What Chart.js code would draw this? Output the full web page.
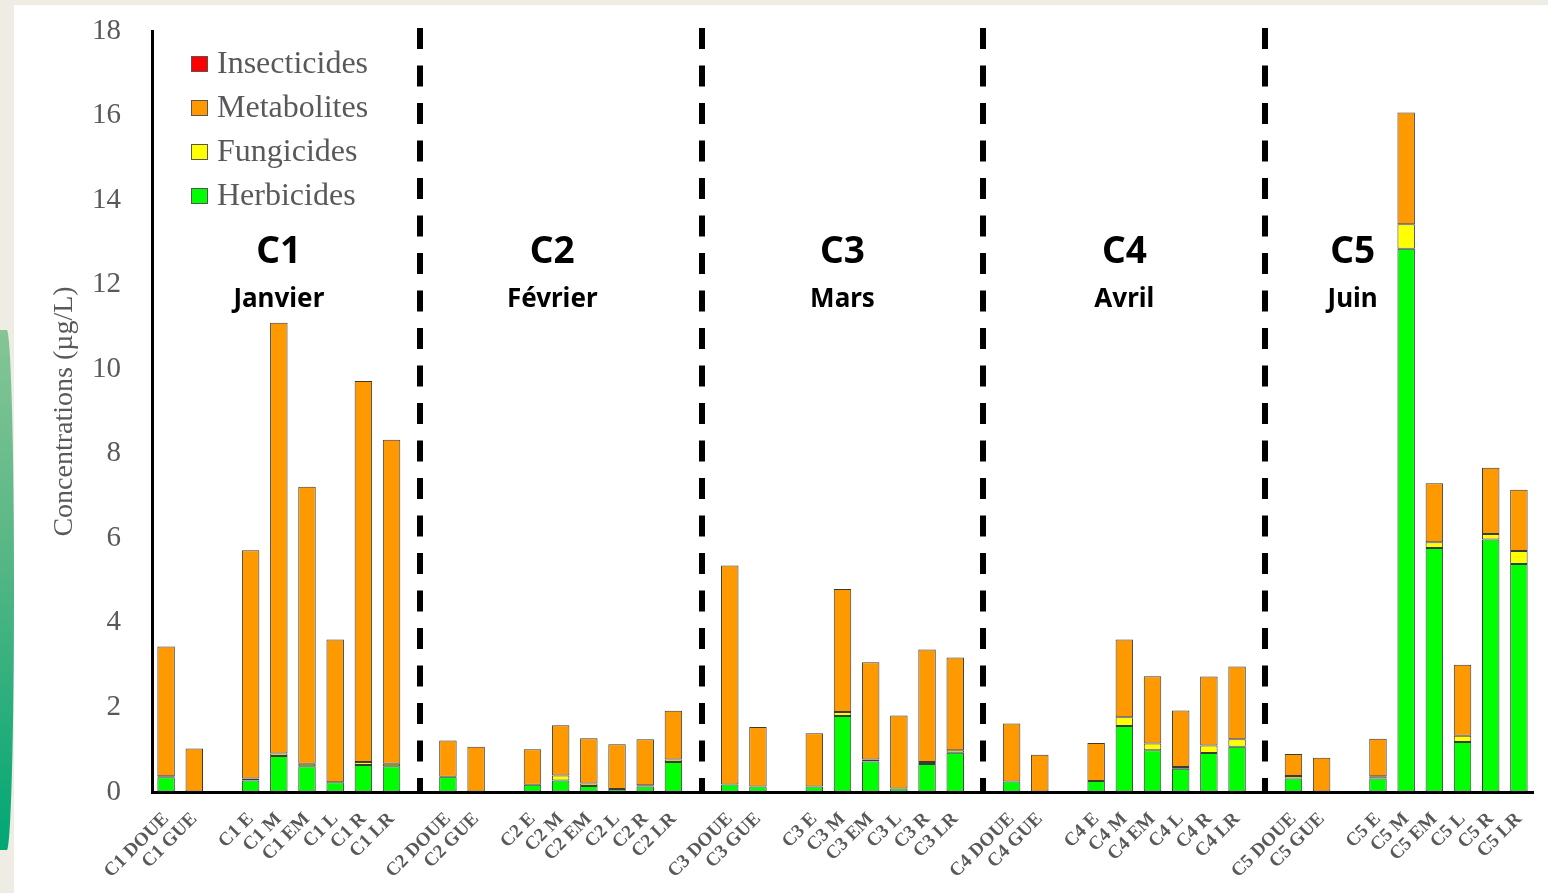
<!DOCTYPE html>
<html>
<head>
<meta charset="utf-8">
<script src="https://cdn.jsdelivr.net/npm/chart.js@4.4.1/dist/chart.umd.min.js"></script>
<style>
  html, body { margin: 0; padding: 0; width: 1548px; height: 893px; overflow: hidden; background: #efece4; }
  #panel { position: absolute; left: 14px; top: 5px; width: 1534px; height: 888px; background: #ffffff; }
  #arc { position: absolute; left: -4px; top: 330px; width: 18px; height: 520px;
         border-radius: 0 40% 40% 0 / 0 50% 50% 0;
         background: linear-gradient(180deg, #86c595 0%, #55b685 45%, #00a774 100%); }
  #wrap { position: absolute; left: 0; top: 0; width: 1548px; height: 893px; }
</style>
</head>
<body>
<div id="arc"></div>
<div id="panel"></div>
<div id="wrap"><canvas id="c" width="1548" height="893"></canvas></div>
<script>
// ---------- DATA ----------
const categories = [
  'C1 DOUE','C1 GUE','','C1 E','C1 M','C1 EM','C1 L','C1 R','C1 LR','',
  'C2 DOUE','C2 GUE','','C2 E','C2 M','C2 EM','C2 L','C2 R','C2 LR','',
  'C3 DOUE','C3 GUE','','C3 E','C3 M','C3 EM','C3 L','C3 R','C3 LR','',
  'C4 DOUE','C4 GUE','','C4 E','C4 M','C4 EM','C4 L','C4 R','C4 LR','',
  'C5 DOUE','C5 GUE','','C5 E','C5 M','C5 EM','C5 L','C5 R','C5 LR'
];
const herbicides = [
  0.35, 0, null, 0.27, 0.85, 0.61, 0.23, 0.64, 0.61, null,
  0.36, 0, null, 0.17, 0.27, 0.14, 0.07, 0.13, 0.71, null,
  0.18, 0.13, null, 0.13, 1.80, 0.72, 0.08, 0.66, 0.93, null,
  0.25, 0, null, 0.26, 1.56, 0.99, 0.55, 0.92, 1.07, null,
  0.32, 0, null, 0.32, 12.85, 5.77, 1.18, 5.97, 5.39
];
const fungicides = [
  0.02, 0, null, 0.05, 0.06, 0.06, 0, 0.07, 0.06, null,
  0, 0, null, 0, 0.12, 0.06, 0, 0.03, 0.06, null,
  0, 0, null, 0, 0.09, 0.05, 0, 0.05, 0.06, null,
  0, 0, null, 0, 0.21, 0.16, 0.04, 0.18, 0.18, null,
  0.06, 0, null, 0.05, 0.58, 0.14, 0.15, 0.13, 0.31
];
const metabolites = [
  3.07, 1.03, null, 5.40, 10.19, 6.55, 3.38, 9.01, 7.66, null,
  0.86, 1.07, null, 0.84, 1.19, 1.07, 1.06, 1.09, 1.15, null,
  5.18, 1.41, null, 1.26, 2.91, 2.30, 1.73, 2.66, 2.19, null,
  1.37, 0.88, null, 0.90, 1.84, 1.59, 1.34, 1.63, 1.72, null,
  0.52, 0.81, null, 0.89, 2.64, 1.39, 1.68, 1.57, 1.45
];
const insecticides = [
  0, 0, null, 0, 0, 0, 0, 0, 0, null,
  0, 0, null, 0, 0, 0, 0, 0, 0, null,
  0, 0, null, 0, 0, 0, 0, 0, 0, null,
  0, 0, null, 0, 0, 0, 0, 0, 0, null,
  0, 0, null, 0, 0, 0, 0, 0, 0
];
const yTicks = [0, 2, 4, 6, 8, 10, 12, 14, 16, 18];
const periodCodes = ['C1', 'C2', 'C3', 'C4', 'C5'];
const periodMonths = ['Janvier', 'Février', 'Mars', 'Avril', 'Juin'];
const periodLabelAt = [4, 13.7, 24, 34, 42.1];       // category position of each period title
const separatorAfter = ['C1 LR', 'C2 LR', 'C3 LR', 'C4 LR'];
const yTitle = 'Concentrations (µg/L)';

// ---------- STYLE ----------
const GRAY = '#595959';
const SERIF = "'Liberation Serif', 'Times New Roman', serif";
const SANS = "'Noto Sans', 'Open Sans', sans-serif";
const barBorder = '#3a3a3a';

const datasets = [
  { label: 'Herbicides',   data: herbicides,   backgroundColor: '#00FF00' },
  { label: 'Fungicides',   data: fungicides,   backgroundColor: '#FFFF00' },
  { label: 'Metabolites',  data: metabolites,  backgroundColor: '#FF9900' },
  { label: 'Insecticides', data: insecticides, backgroundColor: '#FF0000' }
].map(d => Object.assign(d, {
  borderColor: barBorder, borderWidth: 1, borderSkipped: false,
  barPercentage: 0.62, categoryPercentage: 1.0, stack: 's'
}));

const decorPlugin = {
  id: 'decor',
  afterDatasetsDraw(chart) {
    const { ctx, chartArea, scales: { x, y } } = chart;
    // dashed separators
    ctx.save();
    ctx.strokeStyle = '#000';
    ctx.lineWidth = 6;
    ctx.setLineDash([21, 16.5]);
    separatorAfter.forEach(lbl => {
      const idx = categories.indexOf(lbl) + 1;
      const px = Math.round(x.getPixelForValue(idx));
      ctx.beginPath();
      ctx.moveTo(px, chartArea.top - 3);
      ctx.lineTo(px, chartArea.bottom);
      ctx.stroke();
    });
    ctx.restore();

    // period titles
    ctx.save();
    ctx.fillStyle = '#000';
    ctx.textAlign = 'center';
    ctx.textBaseline = 'middle';
    periodCodes.forEach((code, i) => {
      const px = x.getPixelForValue(periodLabelAt[i]);
      ctx.font = "bold 37px " + SANS;
      ctx.fillText(code, px, chartArea.top + 221);
      ctx.font = "bold 26px " + SANS;
      ctx.fillText(periodMonths[i], px, chartArea.top + 269);
    });
    ctx.restore();

    // legend (top series first)
    ctx.save();
    const order = chart.data.datasets.slice().reverse();
    const lx = chartArea.left + 39;
    let ly = chartArea.top + 33;
    ctx.font = "32px " + SERIF;
    ctx.textBaseline = 'middle';
    ctx.textAlign = 'left';
    order.forEach(ds => {
      ctx.fillStyle = ds.backgroundColor;
      ctx.fillRect(lx, ly - 8, 17, 16);
      ctx.strokeStyle = '#555';
      ctx.lineWidth = 1;
      ctx.strokeRect(lx + 0.5, ly - 7.5, 16, 15);
      ctx.fillStyle = GRAY;
      ctx.fillText(ds.label, lx + 26, ly + 1);
      ly += 44;
    });
    ctx.restore();
  }
};

new Chart(document.getElementById('c'), {
  type: 'bar',
  data: { labels: categories, datasets },
  options: {
    responsive: false,
    animation: false,
    layout: { padding: { top: 31, right: 15, bottom: 0, left: 0 } },
    plugins: { legend: { display: false }, tooltip: { enabled: false } },
    scales: {
      x: {
        stacked: true,
        grid: { display: true, color: 'rgba(0,0,0,0)', drawTicks: true, tickLength: 13, tickColor: 'rgba(0,0,0,0)' },
        border: { display: true, color: '#000', width: 3 },
        ticks: {
          autoSkip: false, maxRotation: 45, minRotation: 45,
          color: GRAY, padding: 3,
          font: { family: SERIF, size: 19, weight: 'bold' }
        },
        afterFit(scale) { scale.height = 101; }
      },
      y: {
        stacked: true,
        min: 0, max: 18,
        afterBuildTicks(scale) { scale.ticks = yTicks.map(v => ({ value: v })); },
        grid: { display: true, color: 'rgba(0,0,0,0)', drawTicks: true, tickLength: 28, tickColor: 'rgba(0,0,0,0)' },
        border: { display: true, color: '#000', width: 3 },
        ticks: { color: GRAY, padding: 3, font: { family: SERIF, size: 29 } },
        title: {
          display: true, text: yTitle, color: GRAY,
          font: { family: SERIF, size: 28 }, padding: { top: 48, bottom: 0 }
        },
        afterFit(scale) { scale.width = 152; }
      }
    }
  },
  plugins: [decorPlugin]
});
</script>
</body>
</html>
